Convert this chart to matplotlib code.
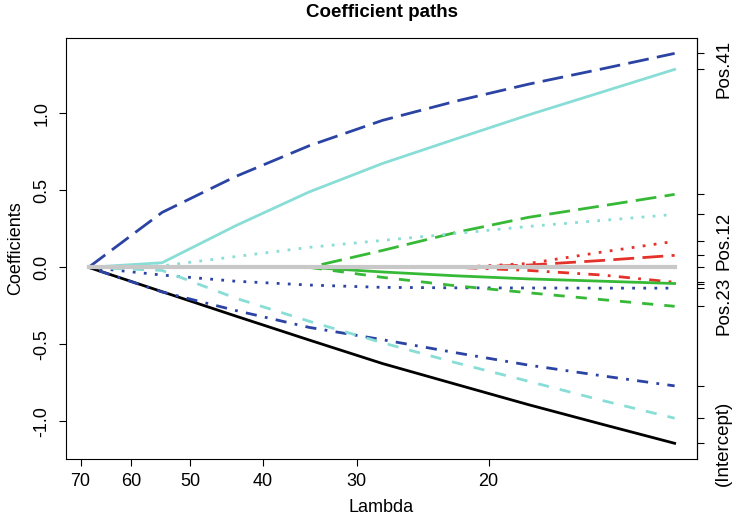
import matplotlib.pyplot as plt
from matplotlib.ticker import NullLocator

plt.rcParams['font.family'] = ['Liberation Sans', 'DejaVu Sans']

# lambda grid (x)
lambdas = [68.3, 54.5, 43.5, 34.7, 27.7, 22.1, 17.7, 14.1, 11.3]

# coefficient paths, one list per coefficient
intercept = [0, -0.158, -0.316, -0.472, -0.625, -0.76, -0.892, -1.02, -1.143]
pos41 = [0, 0.03, 0.27, 0.49, 0.675, 0.835, 0.99, 1.14, 1.286]
blue_long = [0, 0.357, 0.59, 0.79, 0.955, 1.08, 1.19, 1.29, 1.39]
green_long = [0, 0, 0, 0, 0.11, 0.227, 0.325, 0.40, 0.474]
cyan_dot = [0, 0.01, 0.07, 0.13, 0.175, 0.22, 0.266, 0.305, 0.344]
pos12 = [0, 0, 0, 0, 0, 0, 0.025, 0.10, 0.169]
red_long = [0, 0, 0, 0, 0, 0, 0.015, 0.045, 0.078]
red_dashdot = [0, 0, 0, 0, 0, 0, -0.02, -0.05, -0.097]
green_solid = [0, 0, 0, 0, -0.03, -0.055, -0.075, -0.09, -0.105]
blue_dot = [0, -0.05, -0.09, -0.115, -0.13, -0.133, -0.134, -0.135, -0.135]
pos23 = [0, 0, 0, 0, -0.065, -0.12, -0.165, -0.21, -0.253]
blue_dashdot = [0, -0.16, -0.28, -0.39, -0.47, -0.555, -0.635, -0.705, -0.77]
cyan_dash = [0, -0.02, -0.2, -0.35, -0.49, -0.62, -0.74, -0.865, -0.98]
zero_coef = [0, 0, 0, 0, 0, 0, 0, 0, 0]

BLUE = '#2B43A3'
CYAN = '#88DED6'
GREEN = '#36B936'
RED = '#E4322B'

solid = '-'
dashed = (0, (4, 4))
dotted = (0, (1, 3))
dotdash = (0, (1, 3, 4, 3))
longdash = (0, (7.5, 3))

# (values, colour, linestyle, right-axis label)
paths = [
    (intercept, 'black', solid, '(Intercept)'),
    (blue_long, BLUE, longdash, ''),
    (pos41, CYAN, solid, 'Pos.41'),
    (green_long, GREEN, longdash, ''),
    (cyan_dot, CYAN, dotted, ''),
    (pos12, RED, dotted, 'Pos.12'),
    (red_long, RED, longdash, ''),
    (red_dashdot, RED, dotdash, ''),
    (green_solid, GREEN, solid, ''),
    (blue_dot, BLUE, dotted, ''),
    (pos23, GREEN, dashed, 'Pos.23'),
    (blue_dashdot, BLUE, dotdash, ''),
    (cyan_dash, CYAN, dashed, ''),
]

fig = plt.figure(figsize=(7.34, 5.25), dpi=100)
ax = fig.add_axes([66 / 734, 1 - 459 / 525, (697 - 66) / 734, (459 - 38) / 525])

for vals, col, ls, _ in paths:
    ax.plot(lambdas, vals, color=col, linestyle=ls, linewidth=2.0)
ax.plot(lambdas, zero_coef, color='#C8C8C8', linewidth=3.0)

ax.set_xscale('log')
ax.set_xlim(73.2, 10.55)
ax.set_ylim(-1.245, 1.49)

ax.set_xticks([70, 60, 50, 40, 30, 20])
ax.set_xticklabels(['70', '60', '50', '40', '30', '20'])
ax.xaxis.set_minor_locator(NullLocator())
ax.set_yticks([-1.0, -0.5, 0.0, 0.5, 1.0])
ax.set_yticklabels(['-1.0', '-0.5', '0.0', '0.5', '1.0'])
for lbl in ax.get_yticklabels():
    lbl.set_rotation(90)
    lbl.set_va('center')

ax.tick_params(axis='both', direction='out', length=5, width=0.8, labelsize=13)
ax.tick_params(axis='x', pad=5)
ax.tick_params(axis='y', pad=6)
for sp in ax.spines.values():
    sp.set_linewidth(0.8)

# right axis: ticks at every final coefficient value, labels for a few
ends = [p[0][-1] for p in paths] + [0.0]
end_labels = [p[3] for p in paths] + ['']
sec = ax.secondary_yaxis('right')
sec.set_yticks(ends, labels=end_labels)
sec.tick_params(axis='y', direction='out', length=5, width=0.8, labelsize=13.5, pad=8)
for lbl in sec.get_yticklabels():
    lbl.set_rotation(90)
    lbl.set_va('center')
sec.spines['right'].set_linewidth(0.8)

ax.set_title('Coefficient paths', fontweight='bold', fontsize=13.5, pad=15)
ax.set_xlabel('Lambda', fontsize=13)
ax.xaxis.set_label_coords(0.5, -0.095)
ax.xaxis.label.set_va('top')
ax.set_ylabel('Coefficients', fontsize=13)
ax.yaxis.set_label_coords(-0.066, 0.5)

fig.savefig('out.png', dpi=100)
